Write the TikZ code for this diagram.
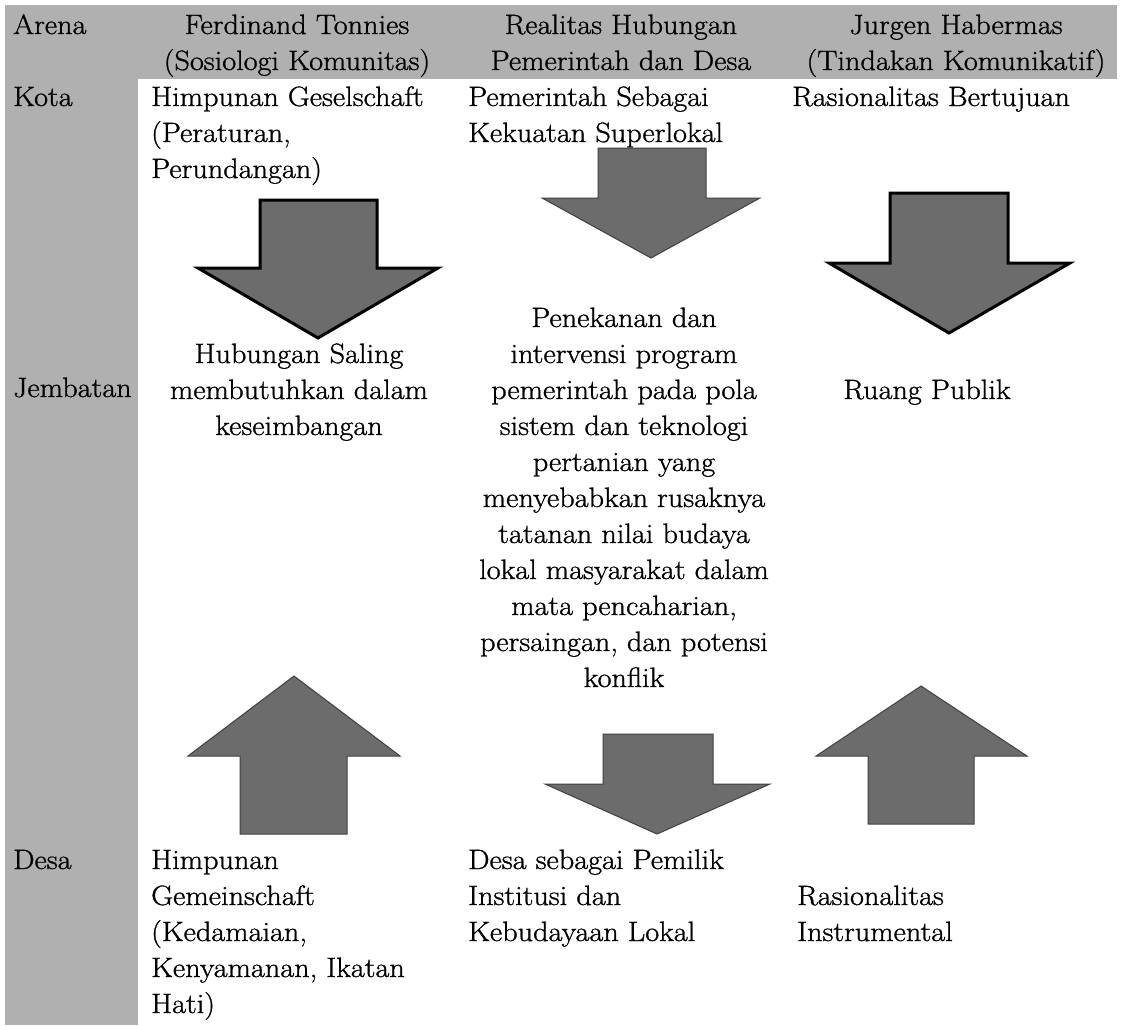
\documentclass[tikz,border=0pt]{standalone}
\usepackage{array}
\usepackage{fontspec}
\setmainfont{Latin Modern Roman}[FakeStretch=1.08,FakeBold=1]
\definecolor{bandgray}{RGB}{176,176,176}
\definecolor{arrowgray}{RGB}{108,108,108}
\newcommand{\lcol}[1]{\begin{tabular}[t]{@{}l@{}}#1\end{tabular}}
\newcommand{\ccol}[1]{\begin{tabular}[t]{@{}c@{}}#1\end{tabular}}
\begin{document}
\begin{tikzpicture}[x=1pt,y=-1pt,
  txt/.style={inner sep=0pt, font=\fontsize{28}{36}\selectfont},
  lt/.style={txt, anchor=base west},
  ct/.style={txt, anchor=base},
  blockarrow/.style={fill=arrowgray, draw=black!75, line width=1pt, line join=miter},
  boldarrow/.style={blockarrow, draw=black, line width=3pt}]
\useasboundingbox (0,0) rectangle (1121,1025);
\fill[white] (0,0) rectangle (1121,1025);
% grey header band and left column
\fill[bandgray] (5,5) rectangle (1117,79);
\fill[bandgray] (5,5) rectangle (138,1025);

% header
\node[lt] (hArena) at (13,34) {Arena};
\node[ct] (hTonnies) at (297,34) {\ccol{Ferdinand Tonnies\\(Sosiologi Komunitas)}};
\node[ct] (hRealitas) at (621,34) {\ccol{Realitas Hubungan\\Pemerintah dan Desa}};
\node[ct] (hHabermas) at (956,34) {\ccol{Jurgen Habermas\\(Tindakan Komunikatif)}};

% row labels
\node[lt] (rKota) at (13,106) {Kota};
\node[lt] (rJembatan) at (13,397) {Jembatan};
\node[lt] (rDesa) at (13,869) {Desa};

% Kota row
\node[lt] (kota1) at (151,106) {\lcol{Himpunan Geselschaft\\(Peraturan,\\Perundangan)}};
\node[lt] (kota2) at (468,106) {\lcol{Pemerintah Sebagai\\Kekuatan Superlokal}};
\node[lt] (kota3) at (792,106) {Rasionalitas Bertujuan};

% Jembatan row
\node[ct] (jem1) at (299,363) {\ccol{Hubungan Saling\\membutuhkan dalam\\keseimbangan}};
\node[ct] (jem2) at (624,327) {\ccol{Penekanan dan\\intervensi program\\pemerintah pada pola\\sistem dan teknologi\\pertanian yang\\menyebabkan rusaknya\\tatanan nilai budaya\\lokal masyarakat dalam\\mata pencaharian,\\persaingan, dan potensi\\konflik}};
\node[ct] (jem3) at (927,399) {Ruang Publik};

% Desa row
\node[lt] (desa1) at (151,869) {\lcol{Himpunan\\Gemeinschaft\\(Kedamaian,\\Kenyamanan, Ikatan\\Hati)}};
\node[lt] (desa2) at (468,869) {\lcol{Desa sebagai Pemilik\\Institusi dan\\Kebudayaan Lokal}};
\node[lt] (desa3) at (797,905) {\lcol{Rasionalitas\\Instrumental}};

% block arrows
% column 1, down (top)
\draw[boldarrow] (260,200) -- (377,200) -- (377,268) -- (438,268) -- (318,338) -- (198,268) -- (260,268) -- cycle;
% column 2, down (top)
\draw[blockarrow] (598,148) -- (706,148) -- (706,198) -- (760,198) -- (651,258) -- (542,198) -- (598,198) -- cycle;
% column 3, down (top)
\draw[boldarrow] (890,193) -- (1008,193) -- (1008,263) -- (1070,263) -- (949,333) -- (829,263) -- (890,263) -- cycle;
% column 1, up (bottom)
\draw[blockarrow] (240,834) -- (347,834) -- (347,756) -- (400,756) -- (294,676) -- (188,756) -- (240,756) -- cycle;
% column 2, down (bottom)
\draw[blockarrow] (603,734) -- (713,734) -- (713,784) -- (770,784) -- (657,834) -- (545,784) -- (603,784) -- cycle;
% column 3, up (bottom)
\draw[blockarrow] (868,824) -- (974,824) -- (974,756) -- (1027,756) -- (921,686) -- (816,756) -- (868,756) -- cycle;
\end{tikzpicture}
\end{document}
